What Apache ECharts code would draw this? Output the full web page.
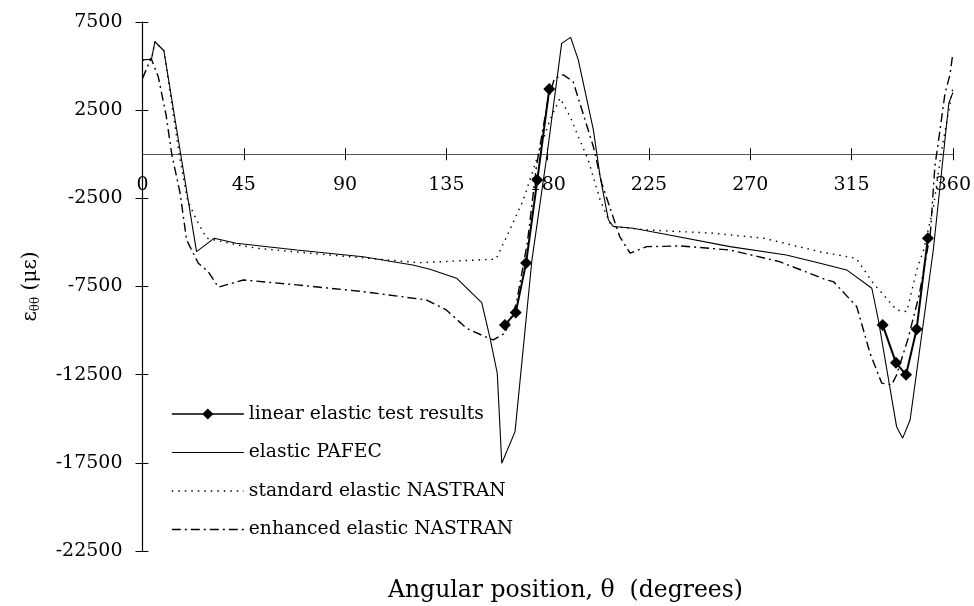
<!DOCTYPE html>
<html><head><meta charset="utf-8">
<script src="https://cdn.jsdelivr.net/npm/echarts@6/dist/echarts.min.js"></script>
<style>html,body{margin:0;padding:0;background:#fff}#c{width:974px;height:606px}</style>
</head><body><div id="c"></div>
<script>
// ---- tick values ----
const xTickValues = [0, 45, 90, 135, 180, 225, 270, 315, 360];
const yTickValues = [-22500, -17500, -12500, -7500, -2500, 2500, 7500];

// ---- series: linear elastic test results (null = gap) ----
const testDeg = [161, 165.8, 170.4, 175.4, 180.7, null, 328.8, 334.7, 339.2, 343.9, 348.9];
const testVal = [-9680, -8980, -6170, -1460, 3700, null, -9680, -11820, -12510, -9920, -4760];

// ---- elastic PAFEC ----
const pafecDeg = [0, 4, 5.5, 9.5, 24, 31.9, 41.6, 68.5, 98, 120, 127.7, 139.5, 150.7, 154.4, 157.6, 159.6, 165.5, 173, 180, 186.2, 190.2, 193.6, 200.3, 203.3, 207, 209.2, 218, 234, 261, 286, 301, 312.8, 324, 326.9, 335, 337.7, 341, 351.3, 358.2, 360];
const pafecVal = [5350, 5390, 6380, 5870, -5520, -4760, -5050, -5430, -5810, -6280, -6520, -7030, -8410, -10430, -12420, -17520, -15730, -6000, 240, 6290, 6630, 5350, 1380, -1270, -3730, -4100, -4200, -4580, -5240, -5710, -6180, -6560, -7600, -9400, -15450, -16100, -15070, -5430, 2890, 3500];

// ---- standard elastic NASTRAN ----
const stdDeg = [0, 4, 5.5, 9.5, 16.3, 20, 24, 28.5, 42, 50.7, 83, 123, 157, 161.8, 169.2, 175, 181, 185.5, 190, 193, 198, 203.3, 207.7, 209.2, 224, 253.6, 275.8, 302, 317, 324.6, 335, 339.5, 344, 347, 351.4, 355, 360];
const stdVal = [5350, 5390, 6380, 5870, 0, -2600, -3730, -4760, -5140, -5330, -5710, -6150, -5950, -4670, -2590, -320, 1950, 3180, 2130, 1190, -320, -2590, -3910, -4100, -4290, -4480, -4760, -5560, -5900, -7310, -8830, -8920, -6560, -5430, -2970, 240, 3740];

// ---- enhanced elastic NASTRAN ----
const enhDeg = [0, 3.8, 7, 10.5, 13, 16.7, 19.6, 24.8, 29.2, 33.7, 44.8, 68.5, 98, 126, 135, 144, 151.4, 155.8, 161, 166, 171, 175, 180, 183, 187, 191.3, 200.3, 204, 212, 216.6, 224, 239, 261, 283, 304, 306.9, 317.3, 323.2, 328.4, 332.8, 335, 340, 345, 350, 352, 354.3, 356.5, 358.7, 360];
const enhVal = [4300, 5440, 4400, 2200, 0, -2210, -4860, -6180, -6660, -7540, -7130, -7410, -7790, -8260, -8830, -9870, -10300, -10530, -10150, -8500, -5000, -700, 3000, 4300, 4500, 4120, 430, -1640, -4670, -5610, -5240, -5200, -5430, -6090, -7130, -7220, -8640, -11280, -12980, -13080, -12520, -10500, -8000, -4480, -700, 1380, 3460, 4500, 5730];

const seriesNames = ['linear elastic test results', 'elastic PAFEC', 'standard elastic NASTRAN', 'enhanced elastic NASTRAN'];

function pairs(xs, ys) {
  return xs.map((x, i) => (x === null || ys[i] === null) ? [null, null] : [x, ys[i]]);
}

const SERIF = '"DejaVu Serif", "Liberation Serif", serif';
const GRID = {left: 142.5, right: 20, top: 22, bottom: 55};
const W = 974, H = 606;
const plotW = W - GRID.left - GRID.right;
const plotH = H - GRID.top - GRID.bottom;
const yMin = yTickValues[0], yMax = yTickValues[yTickValues.length - 1];
// distance of the value-zero line from the grid top / bottom
const zeroFromTop = (yMax - 0) / (yMax - yMin) * plotH;
const zeroFromBottom = plotH - zeroFromTop;

const chart = echarts.init(document.getElementById('c'), null, {renderer: 'canvas'});

const commonX = {
  type: 'value', min: xTickValues[0], max: xTickValues[xTickValues.length - 1],
  interval: xTickValues[1] - xTickValues[0], splitLine: {show: false}
};
const commonY = {
  type: 'value', min: yMin, max: yMax,
  interval: yTickValues[1] - yTickValues[0], splitLine: {show: false}
};

chart.setOption({
  animation: false,
  backgroundColor: '#fff',
  grid: Object.assign({containLabel: false}, GRID),
  title: {
    text: 'Angular position, θ  (degrees)',
    left: 383, top: 574,
    textStyle: {fontFamily: SERIF, fontSize: 23.5, fontWeight: 'normal', color: '#000'}
  },
  legend: {
    orient: 'vertical', left: 166, top: 399,
    itemWidth: 72, itemHeight: 14, itemGap: 18.5,
    textStyle: {fontFamily: SERIF, fontSize: 18.7, color: '#000', lineHeight: 20},
    data: [
      {name: seriesNames[0], lineStyle: {width: 1.6}},
      {name: seriesNames[1], itemStyle: {opacity: 0}, lineStyle: {width: 1}},
      {name: seriesNames[2], itemStyle: {opacity: 0}, lineStyle: {width: 1.3}},
      {name: seriesNames[3], itemStyle: {opacity: 0}, lineStyle: {width: 1.3}}
    ]
  },
  xAxis: [
    Object.assign({}, commonX, {
      position: 'bottom', offset: -zeroFromBottom,
      axisLine: {onZero: false, lineStyle: {color: '#555', width: 1}},
      axisTick: {show: true, length: 6, lineStyle: {color: '#000', width: 1}},
      axisLabel: {margin: 21, color: '#000', fontFamily: SERIF, fontSize: 19}
    }),
    Object.assign({}, commonX, {
      position: 'top', offset: -zeroFromTop,
      axisLine: {show: false, onZero: false},
      axisTick: {show: true, length: 6, lineStyle: {color: '#000', width: 1}},
      axisLabel: {show: false}
    })
  ],
  yAxis: [
    Object.assign({}, commonY, {
      position: 'left',
      axisLine: {onZero: false, lineStyle: {color: '#000', width: 1.2}},
      axisTick: {show: true, length: 7, lineStyle: {color: '#000', width: 1}},
      axisLabel: {margin: 20, color: '#000', fontFamily: SERIF, fontSize: 19,
                  formatter: v => String(v)},
      name: '{e|ε}{s|θθ}{e| (με)}',
      nameLocation: 'middle', nameGap: 101,
      nameTextStyle: {
        color: '#000',
        rich: {
          e: {fontFamily: SERIF, fontSize: 20, color: '#000'},
          s: {fontFamily: SERIF, fontSize: 12, color: '#000', verticalAlign: 'bottom', padding: [10, 0, 0, 0]}
        }
      }
    }),
    Object.assign({}, commonY, {
      position: 'right', offset: -plotW,
      axisLine: {show: false, onZero: false},
      axisTick: {show: true, length: 7, lineStyle: {color: '#000', width: 1}},
      axisLabel: {show: false}
    })
  ],
  series: [
    {
      name: seriesNames[0], type: 'line', xAxisIndex: 0, yAxisIndex: 0,
      data: pairs(testDeg, testVal), connectNulls: false,
      symbol: 'diamond', symbolSize: 12, showSymbol: true,
      lineStyle: {color: '#000', width: 2}, itemStyle: {color: '#000'}, z: 5
    },
    {
      name: seriesNames[1], type: 'line', xAxisIndex: 0, yAxisIndex: 0,
      data: pairs(pafecDeg, pafecVal), symbol: 'none',
      lineStyle: {color: '#000', width: 1.1}, itemStyle: {color: '#000'}
    },
    {
      name: seriesNames[2], type: 'line', xAxisIndex: 0, yAxisIndex: 0,
      data: pairs(stdDeg, stdVal), symbol: 'none',
      lineStyle: {color: '#000', width: 1.4, type: [1.5, 5]}, itemStyle: {color: '#000'}
    },
    {
      name: seriesNames[3], type: 'line', xAxisIndex: 0, yAxisIndex: 0,
      data: pairs(enhDeg, enhVal), symbol: 'none',
      lineStyle: {color: '#000', width: 1.4, type: [9, 4, 2, 4]}, itemStyle: {color: '#000'}
    }
  ]
});
</script></body></html>
